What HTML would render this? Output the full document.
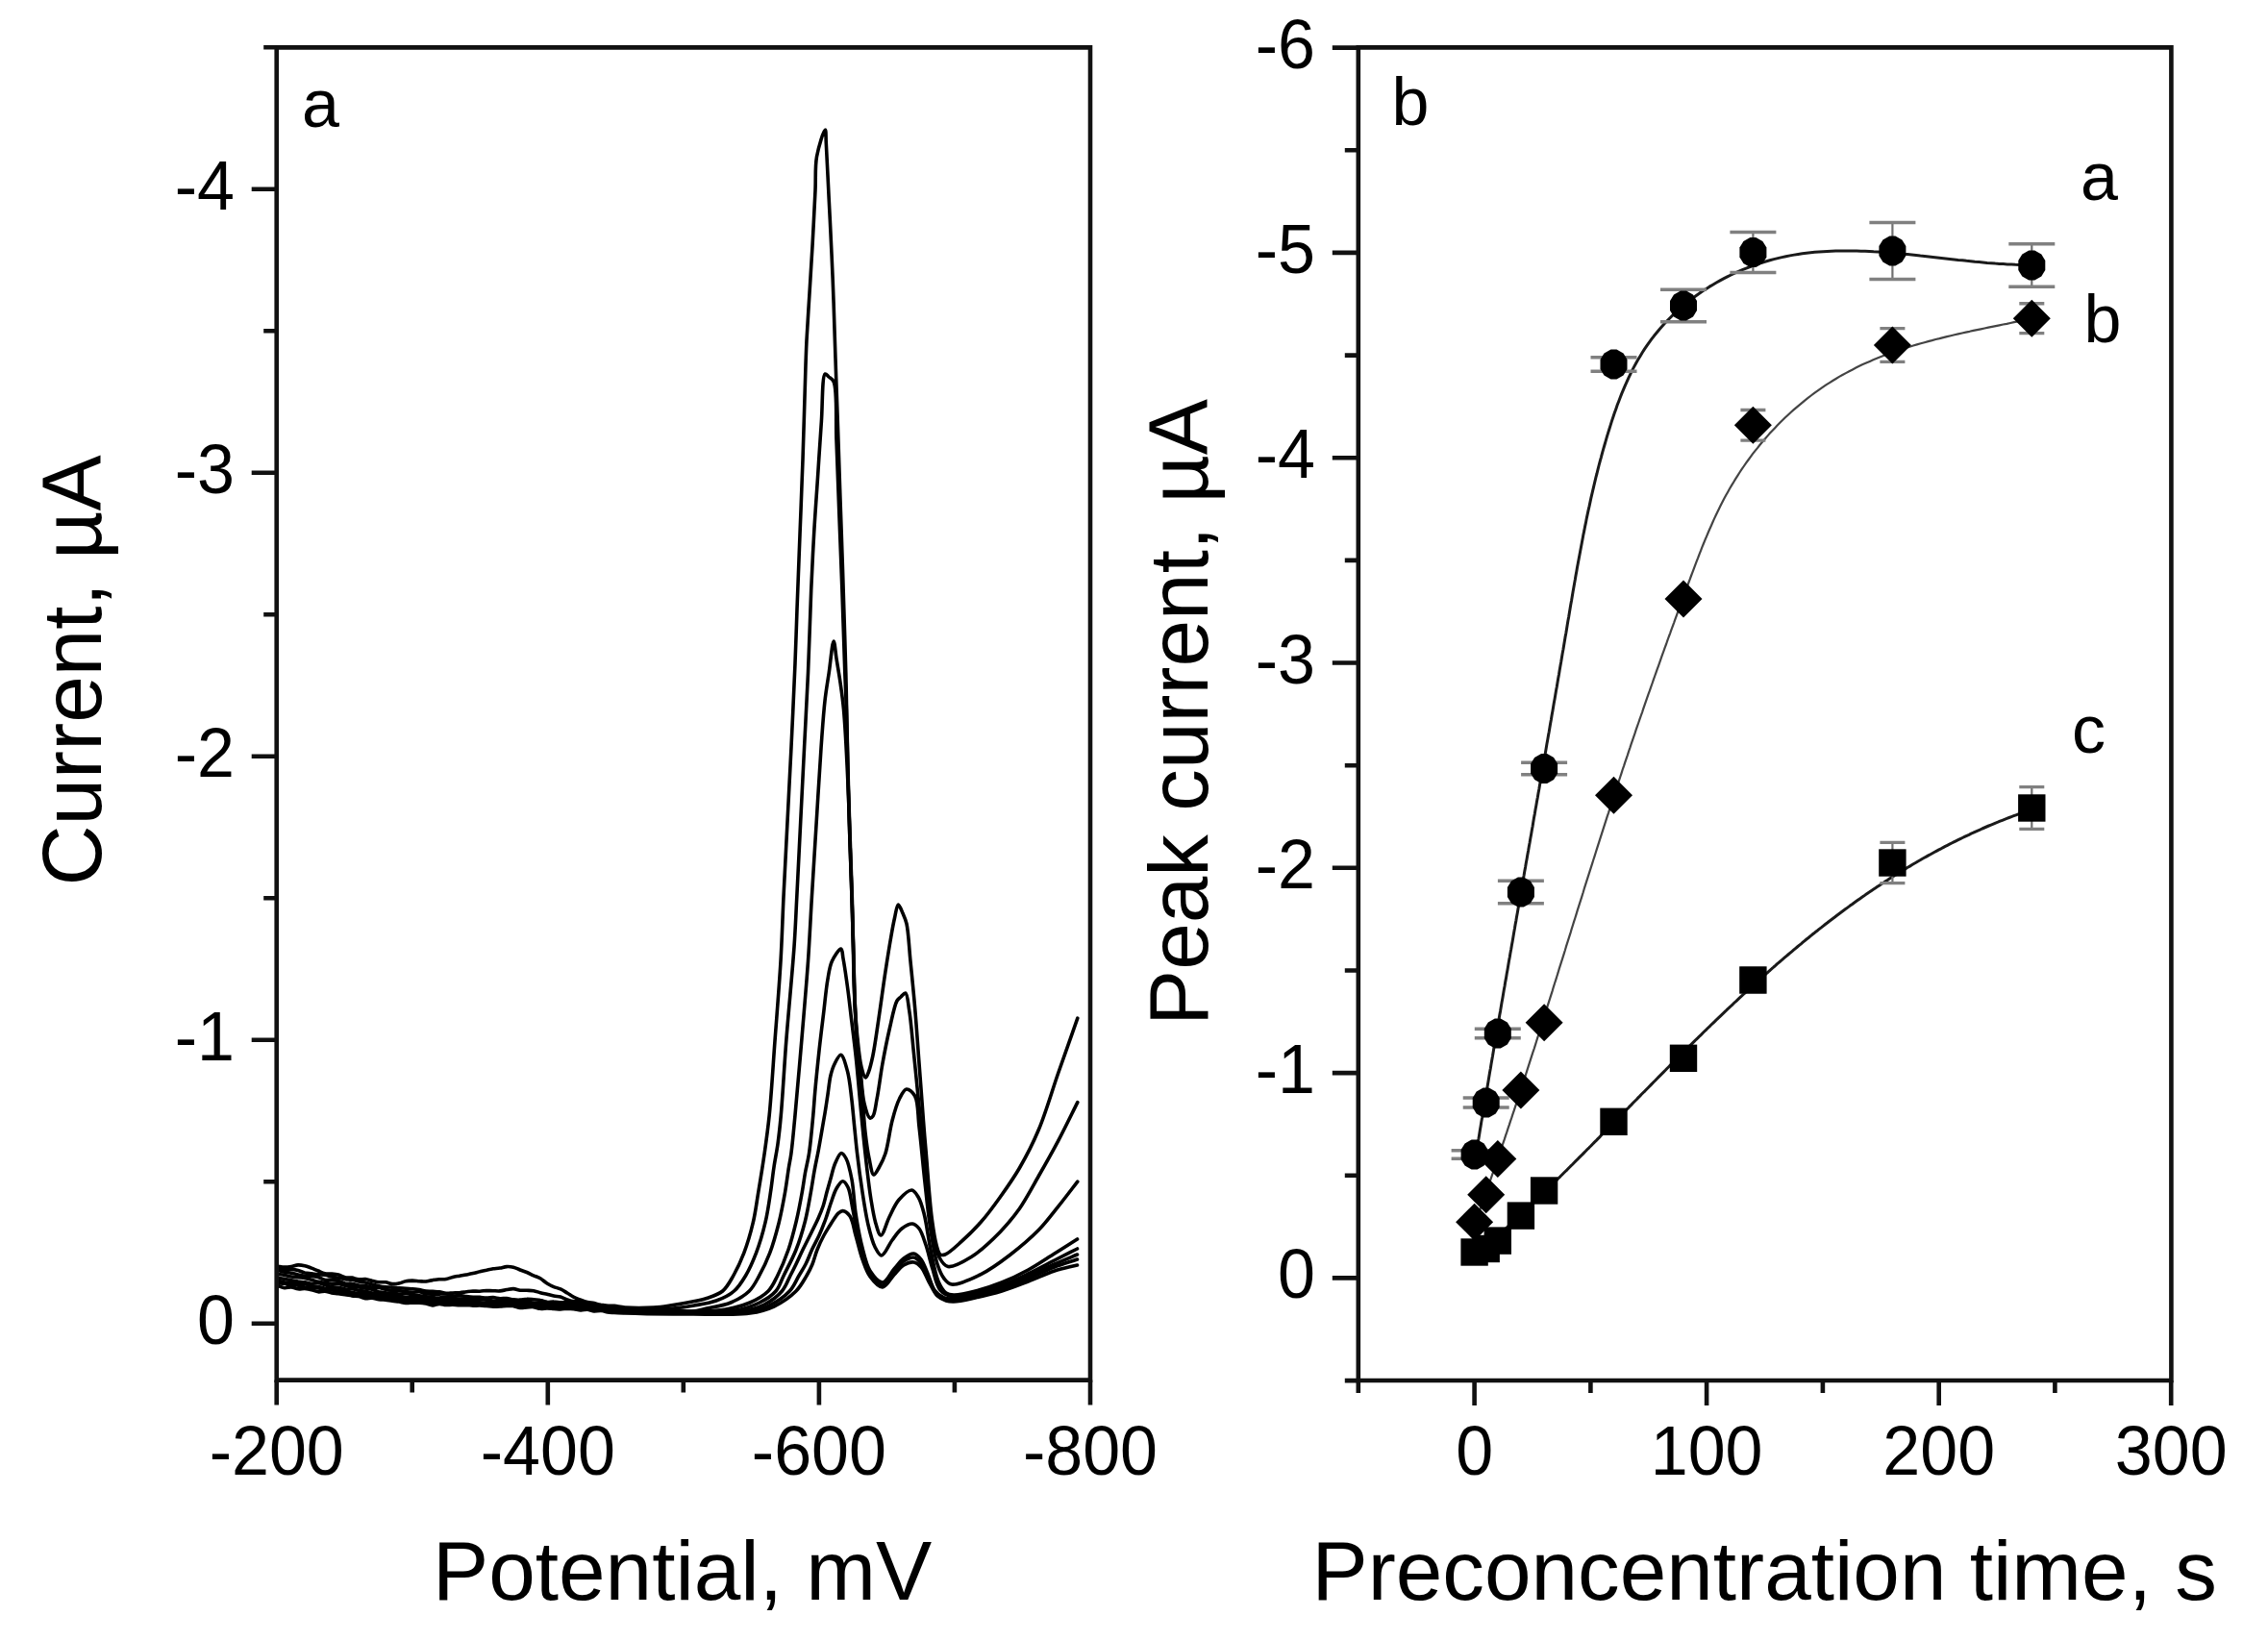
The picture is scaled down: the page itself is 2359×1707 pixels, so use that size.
<!DOCTYPE html>
<html><head><meta charset="utf-8"><title>Figure</title><style>html,body{margin:0;padding:0;background:#fff;}svg{display:block;}</style></head><body>
<svg width="2359" height="1707" viewBox="0 0 2359 1707" font-family="Liberation Sans, Arial, sans-serif">
<rect width="2359" height="1707" fill="#fff"/>
<g fill="none" stroke="#000" stroke-width="3.6" stroke-linejoin="round" stroke-linecap="round">
<path d="M289.0 1317.3 C291.3 1317.6 293.7 1318.1 296.0 1318.1 C298.3 1318.1 300.7 1317.8 303.0 1317.4 C305.3 1317.0 307.7 1316.1 310.0 1315.9 C312.3 1315.8 314.7 1316.2 317.0 1316.7 C319.4 1317.2 321.7 1318.3 324.0 1319.1 C326.3 1320.0 328.7 1321.1 331.0 1322.0 C333.3 1323.0 335.6 1324.3 338.0 1324.8 C340.3 1325.3 342.7 1324.9 345.0 1325.1 C347.3 1325.3 349.7 1325.5 352.0 1326.1 C354.4 1326.7 356.6 1328.2 359.0 1328.7 C361.3 1329.2 363.7 1328.7 366.0 1329.1 C368.3 1329.5 370.6 1330.6 373.0 1330.8 C375.3 1331.1 377.7 1330.3 380.0 1330.5 C382.4 1330.8 384.7 1331.7 387.0 1332.3 C389.3 1332.8 391.7 1333.5 394.0 1333.7 C396.3 1334.0 398.7 1333.5 401.0 1333.8 C403.4 1334.1 405.7 1335.4 408.0 1335.6 C410.3 1335.8 412.7 1335.4 415.0 1334.9 C417.4 1334.5 419.6 1333.2 422.0 1332.8 C424.3 1332.3 426.7 1332.2 429.0 1332.1 C431.3 1332.1 433.7 1332.5 436.0 1332.7 C438.3 1332.8 440.7 1333.1 443.0 1333.0 C445.3 1332.8 447.7 1331.9 450.0 1331.6 C452.3 1331.2 454.7 1331.0 457.0 1330.8 C459.3 1330.7 461.7 1331.0 464.0 1330.6 C466.4 1330.2 468.6 1329.0 471.0 1328.4 C473.3 1327.8 475.7 1327.6 478.0 1327.2 C480.3 1326.8 482.7 1326.5 485.0 1326.0 C487.3 1325.6 489.7 1325.2 492.0 1324.6 C494.3 1324.1 496.7 1323.2 499.0 1322.7 C501.3 1322.1 503.7 1321.6 506.0 1321.2 C508.3 1320.7 510.7 1320.2 513.0 1319.8 C515.3 1319.5 517.7 1319.5 520.0 1319.1 C522.3 1318.7 524.7 1317.8 527.0 1317.6 C529.3 1317.5 531.7 1317.7 534.0 1318.2 C536.4 1318.8 538.7 1320.1 541.0 1321.0 C543.3 1321.9 545.7 1322.6 548.0 1323.5 C550.4 1324.5 552.7 1325.8 555.0 1326.8 C557.3 1327.8 559.7 1328.5 562.0 1329.8 C564.4 1331.2 566.6 1333.5 569.0 1335.0 C571.3 1336.4 573.6 1337.6 576.0 1338.6 C578.3 1339.5 580.7 1339.9 583.0 1340.9 C585.4 1342.0 587.7 1343.6 590.0 1345.0 C592.3 1346.4 594.6 1348.1 597.0 1349.3 C599.3 1350.5 601.7 1351.3 604.0 1352.2 C606.3 1353.1 608.6 1354.0 611.0 1354.5 C613.3 1355.1 615.7 1355.0 618.0 1355.5 C620.4 1356.0 622.6 1357.3 625.0 1357.8 C627.3 1358.3 629.7 1358.2 632.0 1358.3 C634.3 1358.4 636.4 1358.2 639.0 1358.4 C642.3 1358.7 645.4 1359.7 650.0 1360.0 C657.5 1360.5 671.4 1360.5 680.0 1360.0 C686.5 1359.6 690.9 1358.9 697.0 1358.0 C704.1 1357.0 713.2 1355.4 720.0 1354.0 C725.6 1352.9 730.0 1352.2 735.0 1350.5 C740.5 1348.6 747.0 1346.8 751.6 1343.0 C756.3 1339.1 759.2 1333.2 762.7 1327.2 C766.7 1320.2 770.5 1312.0 773.8 1303.4 C777.5 1293.7 780.8 1282.3 783.3 1271.7 C785.8 1261.2 786.9 1251.2 788.8 1240.0 C790.9 1227.4 793.2 1213.3 795.1 1200.0 C797.0 1186.7 798.6 1175.6 800.2 1160.0 C802.4 1137.9 804.2 1106.7 806.2 1080.0 C808.2 1053.3 810.5 1025.5 812.0 1000.0 C813.4 976.7 813.9 956.2 815.0 933.0 C816.2 908.0 817.7 881.0 819.0 855.0 C820.3 829.0 821.7 803.7 823.0 777.0 C824.4 748.8 825.9 715.8 827.0 690.0 C827.8 669.3 828.3 654.2 829.0 634.0 C829.9 610.1 831.0 582.0 832.0 556.0 C833.0 530.0 834.1 505.5 835.0 478.0 C836.1 447.2 837.2 402.2 838.0 380.0 C838.4 368.6 838.5 364.0 839.0 354.0 C839.7 340.2 841.0 321.3 842.0 305.0 C843.0 288.7 844.0 273.0 845.0 256.0 C846.0 237.5 847.2 214.9 848.0 198.0 C848.6 184.9 847.6 173.9 849.5 163.0 C851.3 153.0 856.8 134.8 858.3 135.0 C859.3 135.1 858.9 142.7 859.3 149.0 C860.1 161.7 861.2 187.6 862.2 207.0 C863.2 226.6 864.3 247.2 865.1 266.0 C865.9 283.1 866.5 298.0 867.1 315.0 C867.8 333.5 868.3 353.8 869.0 373.0 C869.6 392.1 870.3 409.0 871.0 430.0 C871.9 455.9 873.0 490.9 873.9 517.0 C874.6 538.3 875.3 555.6 875.9 575.0 C876.6 594.6 877.2 613.8 877.8 634.0 C878.5 655.4 879.3 681.0 879.8 700.0 C880.2 714.4 880.3 723.1 880.6 738.0 C881.1 759.4 881.7 791.8 882.4 816.0 C883.0 837.0 883.6 855.4 884.3 875.0 C884.9 894.4 885.8 914.7 886.3 933.0 C886.8 949.5 887.1 963.4 887.5 980.0 C888.0 998.8 888.2 1022.4 889.0 1040.0 C889.7 1053.8 890.4 1065.0 891.6 1077.0 C892.8 1088.3 893.9 1102.0 896.0 1110.0 C897.2 1114.7 899.0 1120.9 900.4 1121.0 C901.5 1121.1 902.5 1117.5 903.5 1115.0 C905.0 1111.0 906.3 1105.5 907.7 1099.0 C909.8 1089.3 911.6 1075.3 913.6 1062.0 C916.0 1046.4 918.5 1026.5 920.9 1011.0 C922.9 997.9 924.9 985.2 926.7 975.0 C928.0 967.3 929.1 961.0 930.5 955.0 C931.7 949.9 932.7 941.2 934.3 941.0 C935.6 940.9 937.6 946.8 939.0 950.0 C940.5 953.4 941.9 956.1 943.0 961.0 C945.0 969.9 945.6 986.3 947.0 1000.0 C948.5 1015.2 950.2 1031.2 951.6 1048.0 C953.2 1066.4 954.5 1086.6 956.0 1106.0 C957.5 1125.6 959.1 1147.9 960.4 1165.0 C961.4 1178.2 962.1 1186.5 963.3 1200.0 C964.9 1218.7 966.9 1249.5 969.2 1267.0 C970.7 1278.4 972.1 1288.1 974.0 1295.0 C975.2 1299.3 976.0 1303.6 978.0 1305.0 C979.4 1305.9 981.0 1305.7 983.0 1305.0 C987.2 1303.5 994.3 1296.6 1000.1 1291.4 C1006.7 1285.5 1013.7 1278.7 1020.2 1271.3 C1027.2 1263.4 1033.8 1254.3 1040.3 1245.2 C1047.2 1235.6 1054.0 1226.0 1060.4 1215.0 C1067.5 1202.8 1074.3 1189.7 1080.5 1174.8 C1087.8 1157.4 1093.9 1135.8 1100.6 1116.5 C1107.3 1097.3 1114.1 1078.3 1120.8 1059.2"/>
<path d="M289.0 1319.8 C291.3 1320.2 293.7 1320.8 296.0 1320.9 C298.3 1321.0 300.7 1320.3 303.0 1320.4 C305.3 1320.5 307.7 1321.0 310.0 1321.5 C312.4 1322.1 314.6 1323.4 317.0 1324.0 C319.3 1324.5 321.7 1324.6 324.0 1324.9 C326.3 1325.2 328.7 1325.7 331.0 1325.9 C333.3 1326.1 335.7 1326.0 338.0 1326.3 C340.4 1326.7 342.7 1327.6 345.0 1328.1 C347.3 1328.6 349.7 1329.0 352.0 1329.4 C354.3 1329.8 356.7 1330.3 359.0 1330.6 C361.3 1330.9 363.7 1330.8 366.0 1331.2 C368.4 1331.5 370.7 1332.4 373.0 1332.9 C375.3 1333.4 377.7 1333.6 380.0 1334.1 C382.3 1334.7 384.7 1335.4 387.0 1336.0 C389.3 1336.6 391.7 1337.3 394.0 1337.8 C396.3 1338.3 398.7 1338.7 401.0 1338.9 C403.3 1339.1 405.7 1338.9 408.0 1339.1 C410.3 1339.2 412.7 1339.6 415.0 1339.8 C417.3 1340.0 419.7 1340.2 422.0 1340.3 C424.3 1340.5 426.7 1340.6 429.0 1340.8 C431.3 1341.0 433.7 1341.3 436.0 1341.6 C438.3 1342.0 440.7 1342.9 443.0 1343.1 C445.3 1343.4 447.7 1343.2 450.0 1343.3 C452.3 1343.5 454.7 1343.6 457.0 1343.9 C459.3 1344.2 461.7 1345.1 464.0 1345.3 C466.3 1345.5 468.7 1345.1 471.0 1345.0 C473.3 1344.9 475.7 1344.9 478.0 1344.7 C480.3 1344.5 482.7 1344.1 485.0 1343.8 C487.3 1343.5 489.7 1343.1 492.0 1343.0 C494.3 1343.0 496.7 1343.3 499.0 1343.2 C501.3 1343.2 503.7 1342.6 506.0 1342.5 C508.3 1342.5 510.7 1342.7 513.0 1342.7 C515.3 1342.8 517.7 1343.1 520.0 1342.9 C522.3 1342.7 524.7 1342.0 527.0 1341.6 C529.3 1341.2 531.7 1340.5 534.0 1340.6 C536.3 1340.7 538.7 1341.9 541.0 1342.2 C543.3 1342.4 545.7 1342.2 548.0 1342.3 C550.3 1342.4 552.7 1342.3 555.0 1342.7 C557.4 1343.1 559.7 1344.1 562.0 1344.7 C564.3 1345.3 566.7 1345.7 569.0 1346.2 C571.3 1346.8 573.7 1347.6 576.0 1348.0 C578.3 1348.5 580.7 1348.4 583.0 1349.0 C585.4 1349.7 587.6 1351.2 590.0 1352.0 C592.3 1352.8 594.6 1353.5 597.0 1353.8 C599.3 1354.1 601.7 1353.5 604.0 1353.8 C606.4 1354.2 608.6 1355.4 611.0 1355.9 C613.3 1356.4 615.7 1356.6 618.0 1356.8 C620.3 1357.1 622.7 1357.1 625.0 1357.4 C627.3 1357.6 629.7 1358.1 632.0 1358.5 C634.3 1358.8 636.4 1359.1 639.0 1359.4 C642.3 1359.9 645.0 1360.6 650.0 1361.0 C660.6 1361.8 686.7 1361.9 700.0 1361.0 C708.8 1360.4 714.6 1359.3 722.0 1358.0 C729.6 1356.7 737.9 1355.6 745.0 1353.0 C751.7 1350.5 758.4 1347.4 763.5 1343.0 C768.5 1338.7 771.8 1333.2 775.4 1327.2 C779.6 1320.3 783.2 1312.0 786.5 1303.4 C790.2 1293.7 793.5 1282.3 796.0 1271.7 C798.5 1261.2 800.0 1250.1 801.5 1240.0 C802.9 1230.9 803.7 1222.5 805.0 1214.0 C806.2 1205.8 807.8 1198.5 809.0 1190.0 C810.3 1180.6 811.2 1172.4 812.3 1160.0 C814.1 1139.8 815.8 1107.8 818.0 1080.0 C820.4 1049.7 824.1 1011.9 826.0 985.0 C827.4 965.1 827.8 952.1 828.8 933.0 C830.0 909.6 831.4 881.0 832.7 855.0 C834.0 829.0 835.3 802.9 836.6 777.0 C837.9 751.3 839.3 726.4 840.5 700.0 C841.7 672.1 842.6 639.8 843.7 614.0 C844.6 592.8 845.5 575.4 846.6 556.0 C847.7 536.4 849.2 516.7 850.5 497.0 C851.8 477.3 853.0 456.7 854.4 438.0 C855.6 420.9 855.0 390.4 858.3 389.0 C859.3 388.6 860.7 390.8 862.0 392.0 C863.6 393.4 865.7 394.0 867.1 397.0 C871.1 405.8 869.1 436.4 870.0 458.0 C871.0 482.4 871.9 510.0 872.9 536.0 C873.9 562.0 874.9 587.4 875.9 614.0 C876.9 642.0 877.9 677.1 878.8 700.0 C879.4 715.2 879.9 723.1 880.4 738.0 C881.1 759.4 881.6 791.8 882.2 816.0 C882.8 837.0 883.4 855.4 884.0 875.0 C884.6 894.4 885.4 914.7 886.0 933.0 C886.5 949.5 886.9 963.9 887.3 980.0 C887.7 997.1 887.9 1016.2 888.6 1033.0 C889.2 1048.4 889.9 1063.0 891.0 1077.0 C892.0 1089.9 893.6 1101.9 895.0 1114.0 C896.3 1125.6 896.8 1139.1 899.0 1148.0 C900.5 1154.1 902.7 1162.3 904.8 1163.0 C905.8 1163.3 907.1 1162.3 908.0 1161.0 C910.1 1158.1 910.7 1150.1 912.1 1143.0 C914.1 1132.9 915.8 1118.2 918.0 1106.0 C920.2 1093.9 922.7 1081.3 925.3 1070.0 C927.7 1059.8 930.1 1046.1 933.0 1041.0 C934.3 1038.8 935.6 1038.3 937.0 1037.0 C938.5 1035.6 940.5 1032.6 941.8 1033.0 C944.0 1033.8 944.5 1043.7 945.7 1051.0 C947.5 1061.9 948.7 1078.1 950.1 1092.0 C951.6 1106.4 953.0 1121.4 954.5 1136.0 C956.0 1150.4 957.4 1164.1 958.9 1179.0 C960.5 1195.3 962.1 1213.1 964.0 1230.0 C965.8 1246.8 967.4 1265.8 970.0 1280.0 C972.0 1290.7 973.4 1301.4 977.0 1308.0 C979.4 1312.4 981.9 1316.6 986.0 1317.5 C991.8 1318.7 1002.1 1312.5 1010.2 1307.5 C1020.2 1301.3 1031.6 1290.3 1040.3 1281.4 C1048.0 1273.5 1054.0 1266.2 1060.4 1257.2 C1067.5 1247.0 1073.9 1234.6 1080.5 1223.0 C1087.3 1211.1 1094.0 1199.3 1100.6 1186.8 C1107.5 1173.8 1114.1 1160.0 1120.8 1146.6"/>
<path d="M289.0 1321.5 C291.3 1322.1 293.7 1322.9 296.0 1323.3 C298.3 1323.8 300.7 1323.8 303.0 1324.2 C305.3 1324.7 307.7 1325.4 310.0 1325.9 C312.3 1326.4 314.7 1326.9 317.0 1327.2 C319.3 1327.4 321.7 1327.2 324.0 1327.4 C326.3 1327.6 328.7 1327.9 331.0 1328.5 C333.4 1329.2 335.6 1330.8 338.0 1331.3 C340.3 1331.7 342.7 1331.2 345.0 1331.4 C347.3 1331.6 349.7 1331.9 352.0 1332.5 C354.4 1333.1 356.6 1334.6 359.0 1335.1 C361.3 1335.5 363.7 1334.9 366.0 1335.3 C368.4 1335.6 370.6 1336.7 373.0 1337.1 C375.3 1337.5 377.7 1337.3 380.0 1337.6 C382.3 1338.0 384.7 1338.8 387.0 1339.1 C389.3 1339.4 391.7 1339.0 394.0 1339.4 C396.4 1339.7 398.7 1340.8 401.0 1341.3 C403.3 1341.9 405.7 1342.3 408.0 1342.5 C410.3 1342.7 412.7 1342.3 415.0 1342.5 C417.3 1342.7 419.7 1343.4 422.0 1343.6 C424.3 1343.9 426.7 1344.2 429.0 1344.2 C431.3 1344.2 433.7 1343.6 436.0 1343.8 C438.4 1344.1 440.6 1345.4 443.0 1345.8 C445.3 1346.1 447.7 1346.1 450.0 1346.2 C452.3 1346.2 454.7 1346.1 457.0 1346.1 C459.3 1346.0 461.7 1345.7 464.0 1346.0 C466.4 1346.3 468.6 1347.6 471.0 1347.9 C473.3 1348.2 475.7 1347.5 478.0 1347.6 C480.3 1347.7 482.7 1348.2 485.0 1348.5 C487.3 1348.8 489.7 1349.1 492.0 1349.2 C494.3 1349.3 496.7 1349.2 499.0 1349.3 C501.3 1349.5 503.7 1350.1 506.0 1350.1 C508.3 1350.2 510.7 1349.5 513.0 1349.6 C515.3 1349.7 517.7 1350.6 520.0 1350.7 C522.3 1350.9 524.7 1350.3 527.0 1350.5 C529.3 1350.7 531.7 1351.6 534.0 1351.8 C536.3 1352.1 538.7 1352.3 541.0 1352.1 C543.3 1352.0 545.7 1351.2 548.0 1351.2 C550.3 1351.1 552.7 1351.5 555.0 1351.7 C557.3 1352.0 559.7 1352.0 562.0 1352.5 C564.4 1352.9 566.6 1354.1 569.0 1354.4 C571.3 1354.6 573.7 1353.9 576.0 1354.0 C578.3 1354.0 580.7 1354.7 583.0 1354.9 C585.3 1355.0 587.7 1354.7 590.0 1354.8 C592.3 1355.0 594.7 1355.5 597.0 1355.8 C599.3 1356.0 601.7 1356.1 604.0 1356.3 C606.3 1356.5 608.7 1356.7 611.0 1357.1 C613.3 1357.4 615.7 1358.0 618.0 1358.3 C620.3 1358.7 622.7 1358.8 625.0 1359.2 C627.3 1359.5 629.7 1360.3 632.0 1360.6 C634.3 1360.9 636.4 1360.8 639.0 1361.0 C642.3 1361.3 645.0 1361.7 650.0 1362.0 C660.6 1362.6 687.1 1362.5 700.0 1363.0 C708.2 1363.3 713.8 1364.5 720.0 1364.0 C725.4 1363.6 729.4 1362.2 735.0 1361.0 C742.3 1359.4 752.4 1358.2 760.0 1355.0 C767.1 1352.0 774.3 1347.9 779.3 1343.0 C783.9 1338.5 786.3 1333.1 789.6 1327.2 C793.5 1320.2 797.4 1312.0 800.7 1303.4 C804.4 1293.7 807.5 1282.3 810.2 1271.7 C812.8 1261.2 814.8 1250.1 816.6 1240.0 C818.2 1230.9 819.3 1221.3 820.5 1214.0 C821.4 1208.6 822.1 1205.9 822.9 1200.0 C824.3 1190.1 825.5 1175.6 827.0 1160.0 C829.1 1137.9 831.7 1106.7 834.0 1080.0 C836.2 1053.3 838.7 1025.5 840.5 1000.0 C842.1 976.7 843.0 956.2 844.4 933.0 C845.9 908.0 847.6 881.0 849.2 855.0 C850.8 829.0 852.5 799.9 854.1 777.0 C855.4 759.1 856.4 743.0 858.0 729.0 C859.2 718.1 860.7 710.0 862.2 700.0 C863.8 689.4 865.7 667.0 867.1 667.0 C868.2 667.0 869.0 678.5 870.0 685.0 C871.2 692.7 872.8 701.4 874.0 710.0 C875.3 719.1 876.4 726.3 877.5 738.0 C879.3 757.5 880.9 791.8 882.0 816.0 C883.0 837.0 883.3 855.4 884.0 875.0 C884.7 894.4 885.4 913.0 886.0 933.0 C886.7 954.5 887.3 978.3 888.0 1000.0 C888.6 1020.6 889.0 1042.0 890.0 1060.0 C890.8 1074.7 891.8 1086.7 893.0 1100.0 C894.2 1113.3 895.8 1126.8 897.0 1140.0 C898.1 1152.8 898.7 1166.4 900.0 1178.0 C901.1 1187.8 902.3 1197.1 904.0 1205.0 C905.4 1211.4 906.7 1221.6 908.8 1222.0 C910.3 1222.3 912.3 1217.9 914.0 1215.0 C916.3 1211.0 918.9 1206.2 920.9 1200.0 C923.9 1190.9 925.4 1175.2 928.2 1165.0 C930.4 1156.7 932.5 1148.7 935.5 1143.0 C937.7 1138.8 940.0 1133.4 942.8 1133.0 C945.4 1132.6 949.4 1136.2 951.6 1140.0 C955.3 1146.4 954.5 1159.7 956.0 1172.0 C958.0 1188.5 959.9 1211.4 962.0 1230.0 C963.9 1247.3 965.6 1264.9 968.0 1280.0 C970.0 1292.7 972.0 1305.9 975.0 1315.0 C977.0 1321.2 979.1 1326.4 982.0 1330.0 C984.3 1332.8 986.2 1335.4 989.9 1336.0 C996.6 1337.1 1010.4 1330.4 1020.2 1325.6 C1030.6 1320.5 1040.6 1313.0 1050.4 1305.5 C1060.7 1297.6 1071.8 1288.2 1080.5 1279.3 C1088.2 1271.4 1094.0 1263.5 1100.6 1255.2 C1107.4 1246.7 1114.1 1237.8 1120.8 1229.1"/>
<path d="M289.0 1325.5 C291.3 1325.8 293.7 1326.0 296.0 1326.4 C298.3 1326.8 300.7 1327.6 303.0 1328.0 C305.3 1328.4 307.7 1328.4 310.0 1328.7 C312.3 1328.9 314.7 1329.2 317.0 1329.6 C319.3 1330.1 321.7 1330.7 324.0 1331.3 C326.3 1331.9 328.6 1332.9 331.0 1333.3 C333.3 1333.8 335.7 1333.9 338.0 1334.2 C340.3 1334.6 342.7 1335.1 345.0 1335.3 C347.3 1335.5 349.7 1335.2 352.0 1335.5 C354.4 1335.8 356.7 1336.8 359.0 1337.2 C361.3 1337.6 363.7 1337.7 366.0 1337.9 C368.3 1338.2 370.7 1338.6 373.0 1338.9 C375.3 1339.2 377.7 1339.6 380.0 1340.0 C382.3 1340.4 384.7 1340.7 387.0 1341.3 C389.4 1342.0 391.6 1343.2 394.0 1343.8 C396.3 1344.3 398.7 1344.4 401.0 1344.7 C403.3 1345.0 405.7 1345.1 408.0 1345.4 C410.3 1345.6 412.7 1346.0 415.0 1346.0 C417.3 1346.1 419.7 1345.6 422.0 1345.6 C424.3 1345.7 426.7 1346.2 429.0 1346.6 C431.3 1346.9 433.7 1347.5 436.0 1347.8 C438.3 1348.2 440.7 1348.4 443.0 1348.7 C445.3 1349.0 447.7 1349.4 450.0 1349.6 C452.3 1349.9 454.7 1350.2 457.0 1350.1 C459.3 1350.0 461.7 1349.0 464.0 1349.1 C466.3 1349.2 468.7 1350.1 471.0 1350.5 C473.3 1350.8 475.7 1350.9 478.0 1351.0 C480.3 1351.1 482.7 1351.1 485.0 1351.1 C487.3 1351.1 489.7 1350.8 492.0 1350.9 C494.3 1351.1 496.7 1351.8 499.0 1351.9 C501.3 1352.0 503.7 1351.3 506.0 1351.5 C508.4 1351.7 510.6 1353.0 513.0 1353.3 C515.3 1353.6 517.7 1353.5 520.0 1353.5 C522.3 1353.4 524.7 1353.2 527.0 1353.2 C529.3 1353.1 531.7 1352.8 534.0 1353.0 C536.3 1353.2 538.7 1354.2 541.0 1354.4 C543.3 1354.5 545.7 1353.9 548.0 1354.1 C550.3 1354.2 552.7 1354.8 555.0 1355.1 C557.3 1355.3 559.7 1355.5 562.0 1355.6 C564.3 1355.7 566.7 1355.5 569.0 1355.5 C571.3 1355.6 573.7 1355.7 576.0 1355.9 C578.3 1356.1 580.7 1356.6 583.0 1356.8 C585.3 1357.0 587.7 1357.0 590.0 1357.1 C592.3 1357.1 594.7 1357.0 597.0 1357.2 C599.3 1357.3 601.7 1357.6 604.0 1358.0 C606.3 1358.5 608.7 1359.5 611.0 1359.7 C613.3 1359.8 615.7 1359.0 618.0 1359.0 C620.3 1359.0 622.7 1359.3 625.0 1359.7 C627.3 1360.1 629.6 1361.1 632.0 1361.4 C634.3 1361.7 636.4 1361.3 639.0 1361.5 C642.3 1361.7 645.0 1362.6 650.0 1363.0 C660.6 1363.8 687.1 1363.9 700.0 1364.0 C708.2 1364.1 712.4 1364.2 720.0 1364.0 C730.0 1363.7 744.4 1363.8 755.0 1362.0 C764.1 1360.5 772.4 1358.3 780.0 1355.0 C787.0 1351.9 794.2 1348.0 799.1 1343.0 C803.5 1338.5 805.5 1333.3 808.6 1327.2 C812.5 1319.5 816.7 1309.4 820.0 1300.0 C823.3 1290.3 825.9 1280.0 828.3 1270.0 C830.7 1260.0 832.7 1249.0 834.3 1240.0 C835.6 1232.7 836.3 1226.7 837.5 1220.0 C838.7 1213.3 840.3 1207.8 841.5 1200.0 C843.2 1189.0 844.7 1171.6 845.8 1160.0 C846.6 1151.0 846.9 1145.2 847.7 1136.0 C848.8 1123.5 850.6 1106.0 852.1 1092.0 C853.5 1079.1 855.0 1067.2 856.5 1055.0 C858.0 1042.9 859.1 1029.1 860.9 1019.0 C862.2 1011.6 862.8 1005.5 865.3 1000.0 C867.6 995.0 872.9 986.6 874.8 987.0 C876.3 987.3 876.2 992.8 877.0 997.0 C878.3 1004.1 880.0 1015.8 881.4 1026.0 C883.0 1037.3 884.3 1049.9 885.8 1062.0 C887.3 1074.2 888.8 1085.7 890.2 1099.0 C891.9 1114.6 893.4 1133.1 895.0 1150.0 C896.6 1166.8 898.1 1183.5 900.0 1200.0 C901.8 1216.2 903.8 1234.6 906.0 1248.0 C907.6 1257.7 908.9 1266.3 911.0 1273.0 C912.5 1277.8 914.2 1285.0 916.2 1285.0 C918.7 1285.0 921.9 1272.2 925.0 1266.0 C928.1 1259.9 930.8 1252.8 935.0 1248.0 C938.8 1243.7 944.8 1237.7 948.4 1238.0 C951.1 1238.2 953.1 1241.9 955.0 1245.0 C957.6 1249.2 959.2 1255.1 961.0 1262.0 C963.7 1272.1 965.4 1287.8 968.0 1300.0 C970.4 1311.4 972.5 1324.9 976.0 1333.0 C978.3 1338.3 980.8 1342.8 984.0 1345.0 C986.4 1346.7 988.6 1346.9 992.0 1347.0 C997.6 1347.2 1006.7 1345.0 1014.5 1343.0 C1023.3 1340.8 1033.0 1337.6 1042.0 1334.0 C1051.3 1330.3 1060.4 1325.9 1069.4 1321.0 C1078.7 1315.9 1088.0 1309.5 1096.8 1304.0 C1105.0 1298.9 1112.6 1294.0 1120.5 1289.0"/>
<path d="M289.0 1329.2 C291.3 1329.7 293.7 1330.1 296.0 1330.5 C298.3 1331.0 300.7 1331.3 303.0 1331.7 C305.3 1332.2 307.7 1332.7 310.0 1333.1 C312.3 1333.4 314.7 1333.5 317.0 1333.8 C319.3 1334.2 321.7 1335.1 324.0 1335.3 C326.3 1335.4 328.7 1334.5 331.0 1334.7 C333.4 1335.0 335.7 1336.0 338.0 1336.6 C340.3 1337.3 342.6 1338.2 345.0 1338.6 C347.3 1339.1 349.7 1338.9 352.0 1339.3 C354.3 1339.6 356.7 1340.7 359.0 1340.9 C361.3 1341.1 363.7 1340.4 366.0 1340.6 C368.4 1340.9 370.7 1342.0 373.0 1342.4 C375.3 1342.9 377.7 1342.8 380.0 1343.2 C382.3 1343.6 384.7 1344.4 387.0 1344.9 C389.3 1345.4 391.7 1345.9 394.0 1346.1 C396.3 1346.3 398.7 1346.0 401.0 1346.2 C403.3 1346.4 405.7 1346.9 408.0 1347.1 C410.3 1347.4 412.7 1347.4 415.0 1347.8 C417.3 1348.2 419.7 1349.2 422.0 1349.5 C424.3 1349.8 426.7 1349.8 429.0 1349.8 C431.3 1349.8 433.7 1349.1 436.0 1349.3 C438.3 1349.5 440.7 1350.8 443.0 1351.0 C445.3 1351.1 447.7 1350.2 450.0 1350.3 C452.3 1350.5 454.7 1351.5 457.0 1351.6 C459.3 1351.8 461.7 1351.2 464.0 1351.2 C466.3 1351.1 468.7 1351.0 471.0 1351.4 C473.4 1351.7 475.6 1353.2 478.0 1353.3 C480.3 1353.5 482.7 1352.6 485.0 1352.6 C487.3 1352.5 489.7 1352.6 492.0 1353.0 C494.4 1353.4 496.6 1354.5 499.0 1354.8 C501.3 1355.1 503.7 1355.0 506.0 1354.9 C508.3 1354.8 510.7 1354.0 513.0 1354.1 C515.3 1354.3 517.7 1355.5 520.0 1355.6 C522.3 1355.8 524.7 1355.1 527.0 1355.2 C529.3 1355.2 531.7 1355.7 534.0 1355.7 C536.3 1355.7 538.7 1354.9 541.0 1355.1 C543.3 1355.3 545.7 1356.5 548.0 1356.7 C550.3 1357.0 552.7 1356.5 555.0 1356.6 C557.3 1356.8 559.7 1357.4 562.0 1357.6 C564.3 1357.8 566.7 1357.9 569.0 1357.8 C571.3 1357.8 573.7 1357.2 576.0 1357.2 C578.3 1357.2 580.7 1357.6 583.0 1357.7 C585.3 1357.8 587.7 1357.7 590.0 1357.8 C592.3 1357.9 594.7 1358.0 597.0 1358.2 C599.3 1358.3 601.7 1358.4 604.0 1358.6 C606.3 1358.9 608.7 1359.3 611.0 1359.7 C613.3 1360.1 615.7 1360.8 618.0 1361.0 C620.3 1361.1 622.7 1360.4 625.0 1360.6 C627.4 1360.9 629.6 1362.2 632.0 1362.5 C634.3 1362.8 636.4 1362.4 639.0 1362.6 C642.3 1362.8 645.0 1363.6 650.0 1364.0 C660.6 1364.8 687.1 1364.9 700.0 1365.0 C708.2 1365.1 712.0 1365.2 720.0 1365.0 C732.0 1364.7 752.3 1365.3 765.0 1363.0 C774.7 1361.3 782.7 1358.6 790.0 1355.0 C796.5 1351.8 802.8 1347.9 807.0 1343.0 C810.9 1338.5 812.0 1333.2 815.0 1327.2 C818.8 1319.4 824.3 1309.4 828.0 1300.0 C831.8 1290.4 834.9 1280.1 837.5 1270.0 C840.0 1260.1 841.7 1249.4 843.4 1240.0 C844.9 1231.7 845.9 1224.0 847.3 1216.6 C848.5 1209.8 850.0 1203.5 851.2 1197.0 C852.4 1190.5 853.5 1184.1 854.6 1177.6 C855.7 1171.1 856.9 1164.5 858.0 1158.0 C859.1 1151.5 860.0 1145.0 861.0 1138.5 C862.0 1132.0 862.6 1124.6 863.9 1119.0 C865.0 1114.6 866.0 1110.9 867.8 1107.3 C869.6 1103.7 872.5 1097.1 874.6 1097.3 C877.1 1097.6 879.6 1107.5 881.4 1114.0 C883.7 1122.2 884.6 1133.3 885.8 1143.0 C887.0 1152.7 887.7 1162.4 888.7 1172.0 C889.7 1181.4 890.4 1189.8 891.6 1200.0 C893.0 1212.2 895.0 1227.2 897.0 1240.0 C898.8 1251.8 900.6 1263.8 903.0 1274.0 C905.0 1282.5 907.1 1291.3 910.0 1297.0 C912.0 1300.9 914.4 1306.1 916.9 1306.0 C920.2 1305.9 924.3 1294.9 928.0 1290.0 C931.3 1285.6 934.2 1280.9 938.0 1278.0 C941.3 1275.5 945.9 1272.7 949.1 1273.0 C951.8 1273.3 954.0 1275.4 956.0 1278.0 C959.0 1281.8 960.8 1288.7 963.0 1295.0 C965.6 1302.5 967.4 1312.0 970.0 1320.0 C972.4 1327.6 973.7 1337.1 978.0 1342.0 C981.5 1346.0 986.6 1348.2 992.0 1349.0 C998.5 1349.9 1006.7 1346.8 1014.5 1345.0 C1023.3 1343.0 1032.9 1340.3 1042.0 1337.0 C1051.3 1333.6 1060.3 1329.3 1069.4 1325.0 C1078.6 1320.6 1088.0 1315.5 1096.8 1311.0 C1105.0 1306.8 1112.6 1303.0 1120.5 1299.0"/>
<path d="M289.0 1332.5 C291.3 1332.9 293.7 1333.4 296.0 1333.7 C298.3 1333.9 300.7 1334.0 303.0 1334.2 C305.3 1334.4 307.7 1334.6 310.0 1334.9 C312.3 1335.1 314.7 1335.0 317.0 1335.5 C319.4 1336.0 321.6 1337.3 324.0 1337.8 C326.3 1338.3 328.7 1338.1 331.0 1338.5 C333.3 1338.9 335.7 1339.8 338.0 1340.2 C340.3 1340.5 342.7 1340.2 345.0 1340.5 C347.4 1340.9 349.6 1342.0 352.0 1342.3 C354.3 1342.6 356.7 1342.1 359.0 1342.4 C361.4 1342.8 363.6 1344.0 366.0 1344.4 C368.3 1344.9 370.7 1345.1 373.0 1345.4 C375.3 1345.6 377.7 1345.6 380.0 1345.8 C382.3 1346.1 384.7 1346.7 387.0 1347.1 C389.3 1347.5 391.7 1348.2 394.0 1348.4 C396.3 1348.7 398.7 1348.3 401.0 1348.5 C403.3 1348.7 405.7 1349.4 408.0 1349.7 C410.3 1350.1 412.7 1350.6 415.0 1350.7 C417.3 1350.8 419.7 1350.2 422.0 1350.3 C424.3 1350.5 426.7 1351.6 429.0 1351.9 C431.3 1352.2 433.7 1352.0 436.0 1352.2 C438.3 1352.4 440.7 1353.0 443.0 1353.1 C445.3 1353.1 447.7 1352.8 450.0 1352.7 C452.3 1352.6 454.7 1352.4 457.0 1352.7 C459.4 1353.0 461.7 1354.0 464.0 1354.4 C466.3 1354.7 468.7 1354.8 471.0 1354.8 C473.3 1354.8 475.7 1354.7 478.0 1354.6 C480.3 1354.5 482.7 1354.3 485.0 1354.4 C487.3 1354.4 489.7 1354.7 492.0 1355.0 C494.3 1355.3 496.7 1356.0 499.0 1356.2 C501.3 1356.3 503.7 1355.7 506.0 1355.9 C508.3 1356.1 510.7 1357.2 513.0 1357.3 C515.3 1357.5 517.7 1357.1 520.0 1357.0 C522.3 1356.8 524.7 1356.4 527.0 1356.5 C529.3 1356.7 531.7 1357.5 534.0 1357.6 C536.3 1357.8 538.7 1357.2 541.0 1357.4 C543.3 1357.6 545.7 1358.4 548.0 1358.7 C550.3 1359.0 552.7 1359.0 555.0 1358.9 C557.3 1358.9 559.7 1358.5 562.0 1358.5 C564.3 1358.5 566.7 1358.9 569.0 1359.0 C571.3 1359.2 573.7 1359.3 576.0 1359.4 C578.3 1359.5 580.7 1359.7 583.0 1359.9 C585.3 1360.0 587.7 1360.6 590.0 1360.5 C592.3 1360.3 594.7 1359.1 597.0 1359.0 C599.3 1359.0 601.7 1359.7 604.0 1360.1 C606.3 1360.4 608.7 1360.9 611.0 1361.1 C613.3 1361.2 615.7 1360.9 618.0 1361.1 C620.3 1361.3 622.7 1362.0 625.0 1362.2 C627.3 1362.3 629.7 1361.6 632.0 1361.8 C634.4 1362.1 636.4 1363.4 639.0 1363.8 C642.2 1364.3 645.0 1363.9 650.0 1364.0 C660.6 1364.2 687.1 1364.9 700.0 1365.0 C708.2 1365.1 711.8 1365.1 720.0 1365.0 C732.9 1364.9 756.3 1366.0 770.0 1364.0 C779.9 1362.5 787.6 1360.7 795.0 1357.0 C802.0 1353.5 808.8 1348.4 813.4 1343.0 C817.5 1338.2 819.4 1332.0 822.0 1327.0 C824.2 1322.7 826.0 1319.2 828.0 1315.0 C830.3 1310.3 832.5 1305.2 835.0 1300.0 C837.8 1294.3 841.2 1287.7 844.0 1282.0 C846.5 1276.9 848.9 1272.2 851.0 1267.5 C852.9 1263.2 854.5 1259.4 856.0 1255.0 C857.6 1250.3 858.7 1244.9 860.0 1240.0 C861.3 1235.3 862.5 1231.1 863.9 1226.3 C865.4 1221.1 866.7 1214.5 868.8 1209.8 C870.6 1205.8 873.0 1199.7 875.1 1199.5 C876.7 1199.4 878.5 1202.3 880.0 1205.0 C882.6 1209.7 884.4 1218.8 886.0 1227.0 C888.0 1237.3 888.2 1250.3 890.0 1262.0 C891.8 1274.0 894.2 1287.3 897.0 1298.0 C899.3 1306.9 901.0 1315.8 905.0 1322.0 C908.4 1327.2 913.9 1334.2 918.0 1334.0 C922.2 1333.8 926.2 1324.4 930.0 1320.0 C933.5 1316.1 936.3 1311.7 940.0 1309.0 C943.2 1306.6 947.3 1303.7 950.4 1304.0 C953.2 1304.3 955.8 1307.2 958.0 1310.0 C960.9 1313.6 962.7 1319.8 965.0 1325.0 C967.4 1330.5 968.8 1337.7 972.0 1342.0 C974.7 1345.6 978.4 1348.5 982.0 1350.0 C985.2 1351.3 988.0 1351.2 992.0 1351.0 C998.0 1350.8 1006.7 1348.8 1014.5 1347.0 C1023.3 1345.0 1032.9 1342.1 1042.0 1339.0 C1051.2 1335.8 1060.3 1332.0 1069.4 1328.0 C1078.6 1324.0 1088.0 1319.0 1096.8 1315.0 C1104.9 1311.4 1112.6 1308.3 1120.5 1305.0"/>
<path d="M289.0 1334.7 C291.3 1334.9 293.7 1334.9 296.0 1335.3 C298.4 1335.8 300.6 1336.9 303.0 1337.2 C305.3 1337.5 307.7 1336.8 310.0 1337.1 C312.4 1337.4 314.7 1338.5 317.0 1338.9 C319.3 1339.3 321.7 1339.4 324.0 1339.6 C326.3 1339.7 328.7 1339.6 331.0 1340.0 C333.4 1340.3 335.6 1341.4 338.0 1341.7 C340.3 1342.1 342.7 1341.6 345.0 1341.9 C347.4 1342.2 349.6 1343.3 352.0 1343.7 C354.3 1344.0 356.7 1343.8 359.0 1344.1 C361.3 1344.3 363.7 1344.7 366.0 1345.2 C368.3 1345.6 370.7 1346.2 373.0 1346.8 C375.3 1347.4 377.6 1348.3 380.0 1348.6 C382.3 1348.8 384.7 1348.2 387.0 1348.4 C389.3 1348.5 391.7 1349.1 394.0 1349.6 C396.3 1350.1 398.7 1350.8 401.0 1351.3 C403.3 1351.8 405.7 1352.3 408.0 1352.4 C410.3 1352.6 412.7 1352.3 415.0 1352.3 C417.3 1352.4 419.7 1352.3 422.0 1352.6 C424.3 1352.9 426.7 1354.1 429.0 1354.2 C431.3 1354.3 433.7 1352.9 436.0 1353.1 C438.3 1353.2 440.6 1354.8 443.0 1355.1 C445.3 1355.3 447.7 1354.7 450.0 1354.6 C452.3 1354.5 454.7 1354.6 457.0 1354.6 C459.3 1354.7 461.7 1354.7 464.0 1354.9 C466.3 1355.0 468.7 1355.2 471.0 1355.5 C473.3 1355.8 475.7 1356.6 478.0 1356.7 C480.3 1356.7 482.7 1355.8 485.0 1355.8 C487.3 1355.8 489.7 1356.6 492.0 1356.8 C494.3 1357.1 496.7 1357.2 499.0 1357.2 C501.3 1357.2 503.7 1356.9 506.0 1357.0 C508.3 1357.1 510.7 1357.6 513.0 1357.6 C515.3 1357.6 517.7 1357.1 520.0 1357.0 C522.3 1357.0 524.7 1357.2 527.0 1357.3 C529.3 1357.4 531.7 1357.6 534.0 1357.8 C536.3 1358.1 538.7 1358.8 541.0 1359.0 C543.3 1359.1 545.7 1358.8 548.0 1358.8 C550.3 1358.8 552.7 1358.7 555.0 1358.9 C557.3 1359.0 559.7 1359.5 562.0 1359.6 C564.3 1359.8 566.7 1359.7 569.0 1359.7 C571.3 1359.7 573.7 1359.5 576.0 1359.7 C578.3 1359.9 580.7 1360.6 583.0 1360.8 C585.3 1361.1 587.7 1361.0 590.0 1361.0 C592.3 1360.9 594.7 1360.3 597.0 1360.4 C599.3 1360.5 601.7 1361.2 604.0 1361.5 C606.3 1361.7 608.7 1361.7 611.0 1361.9 C613.3 1362.2 615.7 1362.9 618.0 1363.1 C620.3 1363.4 622.7 1363.4 625.0 1363.4 C627.3 1363.4 629.7 1362.9 632.0 1363.2 C634.4 1363.4 636.4 1364.6 639.0 1365.0 C642.2 1365.4 645.0 1364.9 650.0 1365.0 C660.6 1365.1 687.1 1365.9 700.0 1366.0 C708.2 1366.1 711.7 1366.1 720.0 1366.0 C733.8 1365.9 760.3 1367.1 775.0 1365.0 C785.1 1363.5 792.3 1361.7 800.0 1358.0 C807.7 1354.3 816.0 1348.7 821.3 1343.0 C825.8 1338.2 828.0 1332.0 831.0 1327.0 C833.5 1322.7 835.8 1319.3 838.0 1315.0 C840.4 1310.3 842.2 1305.0 844.5 1300.0 C846.8 1295.0 849.6 1290.2 852.0 1285.0 C854.5 1279.4 856.9 1273.2 859.0 1267.5 C860.9 1262.2 862.2 1257.2 864.0 1252.0 C865.9 1246.7 867.7 1240.1 870.2 1236.0 C872.1 1232.9 874.5 1228.7 876.5 1228.7 C878.4 1228.7 880.5 1232.0 882.0 1235.0 C884.5 1240.1 885.3 1249.7 887.0 1258.0 C889.0 1267.8 890.7 1280.0 893.0 1290.0 C895.1 1298.9 897.1 1307.9 900.0 1315.0 C902.3 1320.8 904.6 1326.2 908.0 1330.0 C910.8 1333.2 914.7 1337.5 918.0 1337.0 C922.1 1336.4 926.1 1326.4 930.0 1322.0 C933.4 1318.2 936.4 1314.4 940.0 1312.0 C943.2 1309.9 947.3 1307.5 950.4 1308.0 C953.3 1308.4 955.7 1311.2 958.0 1314.0 C961.1 1317.8 963.3 1324.7 966.0 1330.0 C968.7 1335.3 970.5 1342.2 974.0 1346.0 C976.8 1349.0 980.7 1350.9 984.0 1352.0 C986.7 1352.9 988.7 1353.2 992.0 1353.0 C997.6 1352.7 1006.6 1349.9 1014.5 1348.0 C1023.2 1345.9 1032.9 1344.0 1042.0 1341.0 C1051.2 1338.0 1060.3 1333.8 1069.4 1330.0 C1078.6 1326.2 1087.9 1321.4 1096.8 1318.0 C1104.9 1314.9 1112.6 1312.7 1120.5 1310.0"/>
<path d="M289.0 1337.5 C291.3 1338.2 293.6 1339.4 296.0 1339.7 C298.3 1339.9 300.7 1338.8 303.0 1339.0 C305.4 1339.2 307.6 1340.6 310.0 1340.8 C312.3 1341.1 314.7 1340.4 317.0 1340.5 C319.3 1340.7 321.7 1341.1 324.0 1341.7 C326.4 1342.2 328.6 1343.6 331.0 1343.8 C333.3 1344.1 335.7 1343.1 338.0 1343.2 C340.3 1343.4 342.7 1344.6 345.0 1345.0 C347.3 1345.4 349.7 1345.4 352.0 1345.7 C354.3 1346.0 356.7 1346.4 359.0 1346.8 C361.3 1347.1 363.7 1347.6 366.0 1347.9 C368.3 1348.2 370.7 1348.0 373.0 1348.4 C375.4 1348.8 377.6 1350.3 380.0 1350.6 C382.3 1350.9 384.7 1350.1 387.0 1350.3 C389.3 1350.5 391.7 1351.3 394.0 1351.6 C396.3 1351.9 398.7 1352.0 401.0 1352.2 C403.3 1352.5 405.7 1352.9 408.0 1353.2 C410.3 1353.5 412.7 1353.7 415.0 1354.0 C417.3 1354.4 419.7 1355.3 422.0 1355.5 C424.3 1355.7 426.7 1355.2 429.0 1355.1 C431.3 1355.1 433.7 1355.0 436.0 1355.2 C438.3 1355.3 440.7 1355.6 443.0 1356.0 C445.3 1356.5 447.7 1357.8 450.0 1357.9 C452.3 1357.9 454.7 1356.4 457.0 1356.4 C459.3 1356.3 461.7 1357.4 464.0 1357.5 C466.3 1357.6 468.7 1357.1 471.0 1357.2 C473.3 1357.3 475.7 1357.8 478.0 1357.8 C480.3 1357.9 482.7 1357.4 485.0 1357.4 C487.3 1357.5 489.7 1358.1 492.0 1358.2 C494.3 1358.3 496.7 1357.9 499.0 1358.0 C501.3 1358.0 503.7 1358.3 506.0 1358.5 C508.3 1358.7 510.7 1359.2 513.0 1359.2 C515.3 1359.3 517.7 1359.1 520.0 1358.9 C522.3 1358.8 524.7 1358.5 527.0 1358.4 C529.3 1358.4 531.7 1358.2 534.0 1358.6 C536.4 1358.9 538.6 1360.2 541.0 1360.4 C543.3 1360.7 545.7 1360.0 548.0 1359.9 C550.3 1359.8 552.7 1359.4 555.0 1359.6 C557.3 1359.9 559.7 1361.1 562.0 1361.3 C564.3 1361.5 566.7 1360.9 569.0 1360.9 C571.3 1360.9 573.7 1361.3 576.0 1361.5 C578.3 1361.6 580.7 1362.0 583.0 1362.0 C585.3 1362.0 587.7 1361.3 590.0 1361.2 C592.3 1361.2 594.7 1361.3 597.0 1361.6 C599.3 1361.9 601.7 1362.9 604.0 1363.0 C606.3 1363.1 608.7 1362.1 611.0 1362.2 C613.3 1362.4 615.7 1363.7 618.0 1363.9 C620.3 1364.1 622.7 1363.1 625.0 1363.3 C627.3 1363.4 629.7 1364.5 632.0 1364.9 C634.3 1365.3 636.4 1365.3 639.0 1365.5 C642.3 1365.7 645.0 1365.8 650.0 1366.0 C660.6 1366.4 687.1 1366.9 700.0 1367.0 C708.2 1367.1 711.5 1367.1 720.0 1367.0 C734.6 1366.9 764.4 1368.3 780.0 1366.0 C790.2 1364.5 797.1 1362.7 805.0 1359.0 C813.2 1355.1 822.1 1348.9 828.0 1343.0 C832.9 1338.1 836.0 1332.0 839.0 1327.0 C841.5 1322.8 843.2 1319.3 845.0 1315.0 C846.9 1310.3 848.0 1304.9 850.0 1300.0 C852.0 1294.9 854.6 1289.4 857.0 1285.0 C859.0 1281.3 861.1 1278.1 863.0 1275.0 C864.7 1272.3 866.2 1269.8 867.8 1267.5 C869.2 1265.5 870.4 1263.3 872.0 1262.0 C873.4 1260.8 874.8 1259.5 876.5 1259.6 C878.7 1259.7 882.0 1262.1 884.0 1265.0 C887.1 1269.3 888.0 1278.0 890.0 1285.0 C892.3 1292.9 894.3 1302.4 897.0 1310.0 C899.4 1316.6 901.3 1323.1 905.0 1328.0 C908.4 1332.6 913.9 1339.3 918.0 1339.0 C922.2 1338.7 926.1 1330.0 930.0 1326.0 C933.4 1322.4 936.3 1318.2 940.0 1316.0 C943.2 1314.1 947.3 1312.5 950.4 1313.0 C953.2 1313.4 955.7 1315.5 958.0 1318.0 C961.1 1321.4 963.2 1328.0 966.0 1333.0 C968.9 1338.0 971.5 1344.6 975.0 1348.0 C977.7 1350.6 981.0 1352.0 984.0 1353.0 C986.7 1353.9 988.7 1354.1 992.0 1354.0 C997.6 1353.9 1006.7 1351.7 1014.5 1350.0 C1023.2 1348.1 1032.9 1345.8 1042.0 1343.0 C1051.2 1340.2 1060.3 1336.5 1069.4 1333.0 C1078.6 1329.5 1087.9 1324.9 1096.8 1322.0 C1104.9 1319.4 1112.6 1318.0 1120.5 1316.0"/>
</g>
<path d="M287.7 49.4 H1134.0 V1435.6 H287.7 Z" fill="none" stroke="#111" stroke-width="4.6" stroke-linejoin="miter"/>
<path d="M287.7 1435.6 V1461.6 M569.8 1435.6 V1461.6 M851.9 1435.6 V1461.6 M1134.0 1435.6 V1461.6 M428.7 1435.6 V1448.6 M710.8 1435.6 V1448.6 M992.9 1435.6 V1448.6 M287.7 1376.7 H261.7 M287.7 1081.7 H261.7 M287.7 786.7 H261.7 M287.7 491.7 H261.7 M287.7 196.7 H261.7 M287.7 1229.2 H274.2 M287.7 934.2 H274.2 M287.7 639.2 H274.2 M287.7 344.2 H274.2 M287.7 49.2 H274.2" stroke="#111" stroke-width="4.6" fill="none"/>
<g font-size="70" fill="#000">
<text transform="translate(244 1397.7) scale(1 1.03)" text-anchor="end">0</text>
<text transform="translate(244 1102.7) scale(1 1.03)" text-anchor="end">-1</text>
<text transform="translate(244 807.7) scale(1 1.03)" text-anchor="end">-2</text>
<text transform="translate(244 512.7) scale(1 1.03)" text-anchor="end">-3</text>
<text transform="translate(244 217.7) scale(1 1.03)" text-anchor="end">-4</text>
<text transform="translate(287.7 1534) scale(1 1.03)" text-anchor="middle">-200</text>
<text transform="translate(569.8 1534) scale(1 1.03)" text-anchor="middle">-400</text>
<text transform="translate(851.9 1534) scale(1 1.03)" text-anchor="middle">-600</text>
<text transform="translate(1134.0 1534) scale(1 1.03)" text-anchor="middle">-800</text>
</g>
<text x="314" y="131.5" font-size="70">a</text>
<text x="450" y="1663.6" font-size="87.3">Potential, mV</text>
<text transform="translate(104.5 921.5) rotate(-90)" x="0" y="0" font-size="87.3">Current, µA</text>
<path d="M1412.8 49.4 H2258.4 V1436.0 H1412.8 Z" fill="none" stroke="#111" stroke-width="4.6" stroke-linejoin="miter"/>
<path d="M1533.6 1436.0 V1462.0 M1775.1 1436.0 V1462.0 M2016.7 1436.0 V1462.0 M2258.2 1436.0 V1462.0 M1412.8 1436.0 V1449.0 M1654.4 1436.0 V1449.0 M1895.9 1436.0 V1449.0 M2137.4 1436.0 V1449.0 M1412.8 1329.4 H1385.8 M1412.8 1116.1 H1385.8 M1412.8 902.8 H1385.8 M1412.8 689.5 H1385.8 M1412.8 476.2 H1385.8 M1412.8 262.9 H1385.8 M1412.8 49.6 H1385.8 M1412.8 1436.1 H1398.8 M1412.8 1222.8 H1398.8 M1412.8 1009.5 H1398.8 M1412.8 796.2 H1398.8 M1412.8 582.9 H1398.8 M1412.8 369.6 H1398.8 M1412.8 156.2 H1398.8" stroke="#111" stroke-width="4.6" fill="none"/>
<g font-size="70" fill="#000">
<text transform="translate(1368 1350.4) scale(1 1.03)" text-anchor="end">0</text>
<text transform="translate(1368 1137.1) scale(1 1.03)" text-anchor="end">-1</text>
<text transform="translate(1368 923.8) scale(1 1.03)" text-anchor="end">-2</text>
<text transform="translate(1368 710.5) scale(1 1.03)" text-anchor="end">-3</text>
<text transform="translate(1368 497.2) scale(1 1.03)" text-anchor="end">-4</text>
<text transform="translate(1368 283.9) scale(1 1.03)" text-anchor="end">-5</text>
<text transform="translate(1368 70.6) scale(1 1.03)" text-anchor="end">-6</text>
<text transform="translate(1533.6 1534) scale(1 1.03)" text-anchor="middle">0</text>
<text transform="translate(1775.1 1534) scale(1 1.03)" text-anchor="middle">100</text>
<text transform="translate(2016.7 1534) scale(1 1.03)" text-anchor="middle">200</text>
<text transform="translate(2258.2 1534) scale(1 1.03)" text-anchor="middle">300</text>
</g>
<text x="1447.5" y="130" font-size="70">b</text>
<text x="2164" y="208" font-size="70">a</text>
<text x="2167.5" y="356" font-size="70">b</text>
<text x="2155" y="783" font-size="70">c</text>
<text x="1364.5" y="1663.6" font-size="87.3">Preconcentration time, s</text>
<text transform="translate(1256 1067) rotate(-90)" x="0" y="0" font-size="87.3">Peak current, µA</text>
<path d="M1535.1 1201.4 L1535.8 1197.1 L1536.5 1192.8 L1537.2 1188.5 L1538.0 1184.2 L1538.7 1179.9 L1539.4 1175.6 L1540.1 1171.4 L1540.8 1167.1 L1541.6 1162.8 L1542.3 1158.5 L1543.0 1154.2 L1543.7 1149.9 L1544.4 1145.7 L1545.2 1141.4 L1545.9 1137.1 L1546.6 1132.8 L1547.4 1128.5 L1548.1 1124.3 L1548.8 1120.0 L1549.5 1115.7 L1550.3 1111.4 L1551.0 1107.1 L1551.7 1102.9 L1552.5 1098.6 L1553.2 1094.3 L1553.9 1090.0 L1554.7 1085.8 L1555.4 1081.5 L1556.1 1077.2 L1556.9 1072.9 L1557.6 1068.7 L1558.3 1064.4 L1559.1 1060.1 L1559.8 1055.8 L1560.6 1051.6 L1561.3 1047.3 L1562.0 1043.0 L1562.8 1038.7 L1563.5 1034.5 L1564.2 1030.2 L1565.0 1025.9 L1565.7 1021.6 L1566.5 1017.4 L1567.2 1013.1 L1568.0 1008.8 L1568.7 1004.6 L1569.4 1000.3 L1570.2 996.0 L1570.9 991.7 L1571.7 987.5 L1572.4 983.2 L1573.2 978.9 L1573.9 974.7 L1574.6 970.4 L1575.4 966.1 L1576.1 961.8 L1576.9 957.6 L1577.6 953.3 L1578.4 949.0 L1579.1 944.8 L1579.9 940.5 L1580.6 936.2 L1581.4 932.0 L1582.1 927.7 L1582.9 923.4 L1583.6 919.1 L1584.3 914.9 L1585.1 910.6 L1585.8 906.3 L1586.6 902.1 L1587.3 897.8 L1588.1 893.5 L1588.8 889.3 L1589.6 885.0 L1590.3 880.7 L1591.1 876.5 L1591.8 872.2 L1592.6 867.9 L1593.3 863.7 L1594.1 859.4 L1594.8 855.1 L1595.5 850.8 L1596.3 846.6 L1597.0 842.3 L1597.8 838.0 L1598.5 833.8 L1599.3 829.5 L1600.0 825.2 L1600.8 821.0 L1601.5 816.7 L1602.3 812.4 L1603.0 808.2 L1603.7 803.9 L1604.5 799.6 L1605.2 795.3 L1606.0 791.1 L1606.7 786.8 L1607.5 782.5 L1608.2 778.3 L1608.9 774.0 L1609.7 769.7 L1610.4 765.5 L1611.2 761.2 L1611.9 756.9 L1612.6 752.7 L1613.4 748.4 L1614.1 744.1 L1614.9 739.8 L1615.6 735.6 L1616.3 731.3 L1617.1 727.0 L1617.8 722.8 L1618.5 718.5 L1619.3 714.2 L1620.0 709.9 L1620.7 705.7 L1621.5 701.4 L1622.2 697.1 L1622.9 692.9 L1623.7 688.6 L1624.4 684.3 L1625.1 680.0 L1625.9 675.8 L1626.6 671.5 L1627.3 667.2 L1628.0 662.9 L1628.8 658.7 L1629.5 654.4 L1630.2 650.1 L1630.9 645.8 L1631.7 641.6 L1632.4 637.3 L1633.1 633.0 L1633.8 628.7 L1634.6 624.5 L1635.3 620.2 L1636.0 615.9 L1636.8 611.6 L1637.5 607.4 L1638.3 603.1 L1639.0 598.8 L1639.8 594.5 L1640.5 590.3 L1641.3 586.0 L1642.1 581.7 L1642.9 577.5 L1643.7 573.2 L1644.5 568.9 L1645.3 564.7 L1646.1 560.4 L1646.9 556.1 L1647.8 551.9 L1648.6 547.6 L1649.5 543.4 L1650.3 539.1 L1651.2 534.9 L1652.1 530.6 L1653.1 526.4 L1654.0 522.1 L1654.9 517.9 L1655.9 513.6 L1656.9 509.4 L1657.9 505.2 L1658.9 500.9 L1659.9 496.7 L1661.0 492.5 L1662.0 488.3 L1663.1 484.0 L1664.2 479.8 L1665.4 475.6 L1666.5 471.4 L1667.7 467.2 L1668.9 463.0 L1670.1 458.8 L1671.3 454.6 L1672.6 450.4 L1673.9 446.2 L1675.2 442.1 L1676.5 437.9 L1677.9 433.7 L1679.3 429.6 L1680.8 425.4 L1682.2 421.3 L1683.8 417.2 L1685.3 413.2 L1686.9 409.1 L1688.6 405.1 L1690.3 401.1 L1692.1 397.1 L1693.9 393.2 L1695.7 389.3 L1697.6 385.4 L1699.6 381.6 L1701.7 377.8 L1703.8 374.1 L1706.0 370.4 L1708.2 366.7 L1710.5 363.1 L1712.9 359.6 L1715.4 356.1 L1717.9 352.7 L1720.5 349.3 L1723.2 346.0 L1725.9 342.7 L1728.7 339.5 L1731.6 336.3 L1734.5 333.2 L1737.5 330.2 L1740.6 327.2 L1743.7 324.3 L1746.9 321.4 L1750.1 318.6 L1753.4 315.9 L1756.7 313.2 L1760.1 310.6 L1763.6 308.0 L1767.1 305.5 L1770.6 303.1 L1774.2 300.7 L1777.8 298.4 L1781.5 296.2 L1785.2 294.0 L1789.0 291.9 L1792.7 289.9 L1796.6 287.9 L1800.4 286.0 L1804.3 284.1 L1808.3 282.4 L1812.3 280.7 L1816.2 279.1 L1820.3 277.5 L1824.3 276.0 L1828.4 274.6 L1832.5 273.2 L1836.6 272.0 L1840.8 270.8 L1845.0 269.6 L1849.2 268.6 L1853.4 267.6 L1857.6 266.7 L1861.8 265.9 L1866.1 265.1 L1870.3 264.4 L1874.6 263.8 L1878.9 263.3 L1883.2 262.8 L1887.5 262.3 L1891.9 262.0 L1896.2 261.7 L1900.5 261.4 L1904.9 261.2 L1909.3 261.1 L1913.6 261.0 L1918.0 260.9 L1922.4 260.9 L1926.8 261.0 L1931.2 261.1 L1935.6 261.2 L1940.0 261.3 L1944.4 261.5 L1948.8 261.8 L1953.2 262.0 L1957.6 262.3 L1962.1 262.6 L1966.5 263.0 L1970.9 263.4 L1975.3 263.7 L1979.7 264.2 L1984.1 264.6 L1988.5 265.0 L1993.0 265.5 L1997.4 266.0 L2001.8 266.4 L2006.2 266.9 L2010.5 267.4 L2014.9 267.9 L2019.3 268.4 L2023.7 268.9 L2028.0 269.4 L2032.4 269.9 L2036.7 270.4 L2041.1 270.8 L2045.4 271.3 L2049.7 271.7 L2054.0 272.2 L2058.3 272.6 L2062.5 273.0 L2066.8 273.4 L2071.1 273.7 L2075.3 274.1 L2079.5 274.4 L2083.7 274.6 L2087.9 274.9 L2092.1 275.1 L2096.2 275.3 L2100.3 275.4 L2104.5 275.5 L2108.5 275.6 L2112.6 275.6" fill="none" stroke="#1a1a1a" stroke-width="3.0" stroke-linejoin="round"/>
<path d="M1534.7 1271.0 L1536.0 1267.3 L1537.4 1263.6 L1538.7 1259.9 L1540.1 1256.2 L1541.4 1252.4 L1542.7 1248.7 L1544.1 1245.0 L1545.4 1241.3 L1546.7 1237.5 L1548.0 1233.8 L1549.3 1230.1 L1550.6 1226.3 L1551.9 1222.6 L1553.2 1218.9 L1554.5 1215.1 L1555.8 1211.4 L1557.1 1207.7 L1558.4 1203.9 L1559.7 1200.2 L1560.9 1196.4 L1562.2 1192.7 L1563.5 1188.9 L1564.8 1185.2 L1566.0 1181.4 L1567.3 1177.7 L1568.5 1173.9 L1569.8 1170.2 L1571.0 1166.4 L1572.3 1162.7 L1573.5 1158.9 L1574.8 1155.1 L1576.0 1151.4 L1577.3 1147.6 L1578.5 1143.9 L1579.7 1140.1 L1581.0 1136.3 L1582.2 1132.6 L1583.4 1128.8 L1584.6 1125.0 L1585.9 1121.3 L1587.1 1117.5 L1588.3 1113.7 L1589.5 1109.9 L1590.7 1106.2 L1591.9 1102.4 L1593.1 1098.6 L1594.3 1094.8 L1595.6 1091.1 L1596.8 1087.3 L1598.0 1083.5 L1599.2 1079.7 L1600.4 1076.0 L1601.6 1072.2 L1602.8 1068.4 L1603.9 1064.6 L1605.1 1060.9 L1606.3 1057.1 L1607.5 1053.3 L1608.7 1049.5 L1609.9 1045.7 L1611.1 1041.9 L1612.3 1038.2 L1613.5 1034.4 L1614.7 1030.6 L1615.8 1026.8 L1617.0 1023.0 L1618.2 1019.3 L1619.4 1015.5 L1620.6 1011.7 L1621.7 1007.9 L1622.9 1004.1 L1624.1 1000.3 L1625.3 996.6 L1626.5 992.8 L1627.7 989.0 L1628.8 985.2 L1630.0 981.4 L1631.2 977.6 L1632.4 973.9 L1633.6 970.1 L1634.7 966.3 L1635.9 962.5 L1637.1 958.7 L1638.3 955.0 L1639.5 951.2 L1640.6 947.4 L1641.8 943.6 L1643.0 939.8 L1644.2 936.1 L1645.4 932.3 L1646.6 928.5 L1647.7 924.7 L1648.9 920.9 L1650.1 917.2 L1651.3 913.4 L1652.5 909.6 L1653.7 905.8 L1654.9 902.1 L1656.1 898.3 L1657.3 894.5 L1658.5 890.8 L1659.7 887.0 L1660.9 883.2 L1662.1 879.4 L1663.3 875.7 L1664.5 871.9 L1665.7 868.1 L1666.9 864.4 L1668.1 860.6 L1669.3 856.8 L1670.5 853.1 L1671.7 849.3 L1673.0 845.6 L1674.2 841.8 L1675.4 838.0 L1676.6 834.3 L1677.8 830.5 L1679.1 826.8 L1680.3 823.0 L1681.5 819.3 L1682.8 815.5 L1684.0 811.8 L1685.3 808.0 L1686.5 804.3 L1687.7 800.5 L1689.0 796.8 L1690.2 793.1 L1691.5 789.3 L1692.8 785.6 L1694.0 781.8 L1695.3 778.1 L1696.5 774.4 L1697.8 770.6 L1699.1 766.9 L1700.4 763.2 L1701.6 759.4 L1702.9 755.7 L1704.2 752.0 L1705.5 748.2 L1706.8 744.5 L1708.1 740.8 L1709.3 737.1 L1710.6 733.3 L1711.9 729.6 L1713.2 725.9 L1714.5 722.1 L1715.9 718.4 L1717.2 714.7 L1718.5 711.0 L1719.8 707.2 L1721.1 703.5 L1722.4 699.8 L1723.7 696.1 L1725.1 692.3 L1726.4 688.6 L1727.7 684.9 L1729.0 681.2 L1730.4 677.4 L1731.7 673.7 L1733.1 670.0 L1734.4 666.2 L1735.7 662.5 L1737.1 658.8 L1738.4 655.1 L1739.8 651.3 L1741.2 647.6 L1742.5 643.9 L1743.9 640.1 L1745.2 636.4 L1746.6 632.7 L1748.0 628.9 L1749.3 625.2 L1750.7 621.5 L1752.1 617.7 L1753.5 614.0 L1754.9 610.3 L1756.2 606.5 L1757.6 602.8 L1759.0 599.0 L1760.4 595.3 L1761.8 591.6 L1763.2 587.8 L1764.6 584.1 L1766.1 580.4 L1767.5 576.6 L1769.0 572.9 L1770.4 569.2 L1771.9 565.5 L1773.4 561.8 L1775.0 558.1 L1776.5 554.5 L1778.1 550.8 L1779.7 547.2 L1781.3 543.5 L1782.9 539.9 L1784.6 536.3 L1786.3 532.7 L1788.0 529.2 L1789.8 525.6 L1791.6 522.1 L1793.4 518.6 L1795.3 515.1 L1797.2 511.7 L1799.1 508.3 L1801.1 504.9 L1803.2 501.5 L1805.2 498.1 L1807.3 494.8 L1809.4 491.5 L1811.6 488.2 L1813.8 485.0 L1816.1 481.7 L1818.4 478.5 L1820.7 475.4 L1823.0 472.2 L1825.4 469.1 L1827.9 466.1 L1830.3 463.0 L1832.8 460.0 L1835.4 457.0 L1837.9 454.1 L1840.5 451.1 L1843.2 448.3 L1845.9 445.4 L1848.6 442.6 L1851.3 439.8 L1854.1 437.0 L1856.9 434.3 L1859.7 431.7 L1862.6 429.0 L1865.5 426.4 L1868.5 423.8 L1871.5 421.3 L1874.5 418.8 L1877.5 416.3 L1880.6 413.9 L1883.7 411.5 L1886.8 409.2 L1890.0 406.9 L1893.2 404.6 L1896.4 402.4 L1899.7 400.2 L1903.0 398.1 L1906.3 396.0 L1909.6 394.0 L1913.0 391.9 L1916.4 390.0 L1919.9 388.1 L1923.4 386.2 L1926.9 384.4 L1930.4 382.6 L1933.9 380.8 L1937.5 379.1 L1941.1 377.5 L1944.8 375.9 L1948.4 374.3 L1952.1 372.8 L1955.8 371.3 L1959.6 369.8 L1963.3 368.4 L1967.1 367.1 L1970.9 365.7 L1974.7 364.4 L1978.5 363.2 L1982.3 361.9 L1986.2 360.7 L1990.0 359.5 L1993.9 358.4 L1997.8 357.3 L2001.7 356.2 L2005.6 355.1 L2009.5 354.1 L2013.4 353.0 L2017.3 352.1 L2021.2 351.1 L2025.1 350.1 L2029.0 349.2 L2033.0 348.3 L2036.9 347.4 L2040.8 346.5 L2044.7 345.6 L2048.6 344.8 L2052.5 343.9 L2056.4 343.1 L2060.3 342.3 L2064.2 341.5 L2068.1 340.7 L2072.0 339.9 L2075.8 339.1 L2079.6 338.3 L2083.5 337.5 L2087.3 336.8 L2091.1 336.0 L2094.8 335.2 L2098.6 334.5 L2102.3 333.7 L2106.1 332.9 L2109.8 332.2 L2113.4 331.4" fill="none" stroke="#444" stroke-width="2.2" stroke-linejoin="round"/>
<path d="M1536.4 1304.6 L1538.2 1303.0 L1540.1 1301.4 L1541.9 1299.8 L1543.7 1298.2 L1545.6 1296.6 L1547.4 1295.0 L1549.2 1293.3 L1551.1 1291.7 L1552.9 1290.1 L1554.7 1288.4 L1556.5 1286.8 L1558.4 1285.1 L1560.2 1283.5 L1562.0 1281.8 L1563.8 1280.2 L1565.6 1278.5 L1567.4 1276.8 L1569.2 1275.2 L1571.1 1273.5 L1572.9 1271.8 L1574.7 1270.1 L1576.5 1268.5 L1578.3 1266.8 L1580.1 1265.1 L1581.9 1263.4 L1583.7 1261.7 L1585.5 1260.0 L1587.3 1258.3 L1589.1 1256.6 L1590.9 1254.9 L1592.6 1253.2 L1594.4 1251.5 L1596.2 1249.8 L1598.0 1248.0 L1599.8 1246.3 L1601.6 1244.6 L1603.4 1242.9 L1605.1 1241.2 L1606.9 1239.4 L1608.7 1237.7 L1610.5 1236.0 L1612.3 1234.2 L1614.0 1232.5 L1615.8 1230.7 L1617.6 1229.0 L1619.4 1227.3 L1621.1 1225.5 L1622.9 1223.8 L1624.7 1222.0 L1626.4 1220.3 L1628.2 1218.5 L1630.0 1216.8 L1631.7 1215.0 L1633.5 1213.2 L1635.3 1211.5 L1637.0 1209.7 L1638.8 1207.9 L1640.6 1206.2 L1642.3 1204.4 L1644.1 1202.6 L1645.9 1200.9 L1647.6 1199.1 L1649.4 1197.3 L1651.1 1195.5 L1652.9 1193.8 L1654.7 1192.0 L1656.4 1190.2 L1658.2 1188.4 L1660.0 1186.7 L1661.7 1184.9 L1663.5 1183.1 L1665.2 1181.3 L1667.0 1179.5 L1668.7 1177.7 L1670.5 1176.0 L1672.3 1174.2 L1674.0 1172.4 L1675.8 1170.6 L1677.5 1168.8 L1679.3 1167.0 L1681.1 1165.2 L1682.8 1163.4 L1684.6 1161.6 L1686.3 1159.8 L1688.1 1158.1 L1689.8 1156.3 L1691.6 1154.5 L1693.4 1152.7 L1695.1 1150.9 L1696.9 1149.1 L1698.6 1147.3 L1700.4 1145.5 L1702.2 1143.7 L1703.9 1141.9 L1705.7 1140.1 L1707.4 1138.3 L1709.2 1136.5 L1711.0 1134.8 L1712.7 1133.0 L1714.5 1131.2 L1716.3 1129.4 L1718.0 1127.6 L1719.8 1125.8 L1721.6 1124.0 L1723.3 1122.2 L1725.1 1120.4 L1726.9 1118.6 L1728.6 1116.9 L1730.4 1115.1 L1732.2 1113.3 L1733.9 1111.5 L1735.7 1109.7 L1737.5 1107.9 L1739.3 1106.2 L1741.0 1104.4 L1742.8 1102.6 L1744.6 1100.8 L1746.4 1099.0 L1748.2 1097.3 L1749.9 1095.5 L1751.7 1093.7 L1753.5 1091.9 L1755.3 1090.2 L1757.1 1088.4 L1758.9 1086.6 L1760.6 1084.9 L1762.4 1083.1 L1764.2 1081.3 L1766.0 1079.6 L1767.8 1077.8 L1769.6 1076.1 L1771.4 1074.3 L1773.2 1072.5 L1775.0 1070.8 L1776.8 1069.0 L1778.6 1067.3 L1780.4 1065.5 L1782.2 1063.8 L1784.0 1062.1 L1785.8 1060.3 L1787.6 1058.6 L1789.5 1056.8 L1791.3 1055.1 L1793.1 1053.4 L1794.9 1051.7 L1796.7 1049.9 L1798.6 1048.2 L1800.4 1046.5 L1802.2 1044.8 L1804.0 1043.0 L1805.9 1041.3 L1807.7 1039.6 L1809.5 1037.9 L1811.4 1036.2 L1813.2 1034.5 L1815.0 1032.8 L1816.9 1031.1 L1818.7 1029.4 L1820.6 1027.7 L1822.4 1026.0 L1824.3 1024.3 L1826.1 1022.7 L1828.0 1021.0 L1829.8 1019.3 L1831.7 1017.6 L1833.6 1016.0 L1835.4 1014.3 L1837.3 1012.6 L1839.2 1011.0 L1841.0 1009.3 L1842.9 1007.7 L1844.8 1006.0 L1846.7 1004.4 L1848.5 1002.7 L1850.4 1001.1 L1852.3 999.5 L1854.2 997.8 L1856.1 996.2 L1858.0 994.6 L1859.9 993.0 L1861.8 991.4 L1863.7 989.8 L1865.6 988.2 L1867.5 986.6 L1869.4 985.0 L1871.3 983.4 L1873.3 981.8 L1875.2 980.2 L1877.1 978.6 L1879.0 977.0 L1881.0 975.5 L1882.9 973.9 L1884.8 972.3 L1886.8 970.8 L1888.7 969.2 L1890.7 967.7 L1892.6 966.1 L1894.6 964.6 L1896.5 963.1 L1898.5 961.5 L1900.5 960.0 L1902.4 958.5 L1904.4 957.0 L1906.4 955.5 L1908.4 954.0 L1910.3 952.5 L1912.3 951.0 L1914.3 949.5 L1916.3 948.0 L1918.3 946.5 L1920.3 945.1 L1922.3 943.6 L1924.3 942.1 L1926.3 940.7 L1928.3 939.2 L1930.3 937.8 L1932.4 936.3 L1934.4 934.9 L1936.4 933.5 L1938.5 932.1 L1940.5 930.6 L1942.5 929.2 L1944.6 927.8 L1946.6 926.4 L1948.7 925.0 L1950.7 923.7 L1952.8 922.3 L1954.9 920.9 L1956.9 919.5 L1959.0 918.2 L1961.1 916.8 L1963.2 915.5 L1965.3 914.1 L1967.3 912.8 L1969.4 911.5 L1971.5 910.1 L1973.6 908.8 L1975.7 907.5 L1977.9 906.2 L1980.0 904.9 L1982.1 903.6 L1984.2 902.3 L1986.4 901.1 L1988.5 899.8 L1990.6 898.5 L1992.8 897.3 L1994.9 896.0 L1997.1 894.8 L1999.2 893.5 L2001.4 892.3 L2003.6 891.1 L2005.7 889.9 L2007.9 888.7 L2010.1 887.5 L2012.3 886.3 L2014.5 885.1 L2016.7 883.9 L2018.9 882.8 L2021.1 881.6 L2023.3 880.4 L2025.5 879.3 L2027.7 878.2 L2030.0 877.0 L2032.2 875.9 L2034.4 874.8 L2036.7 873.7 L2038.9 872.6 L2041.2 871.5 L2043.4 870.4 L2045.7 869.3 L2048.0 868.3 L2050.2 867.2 L2052.5 866.2 L2054.8 865.1 L2057.1 864.1 L2059.4 863.1 L2061.7 862.0 L2064.0 861.0 L2066.3 860.0 L2068.6 859.0 L2070.9 858.1 L2073.3 857.1 L2075.6 856.1 L2078.0 855.2 L2080.3 854.2 L2082.6 853.3 L2085.0 852.3 L2087.4 851.4 L2089.7 850.5 L2092.1 849.6 L2094.5 848.7 L2096.9 847.8 L2099.3 846.9 L2101.7 846.1 L2104.1 845.2 L2106.5 844.4 L2108.9 843.5 L2111.3 842.7 L2113.8 841.9" fill="none" stroke="#1a1a1a" stroke-width="3.0" stroke-linejoin="round"/>
<g fill="none"><path d="M1533.6 1196.7 V1205.3" stroke="#707070" stroke-width="2.2"/><path d="M1509.6 1196.7 H1557.6 M1509.6 1205.3 H1557.6" stroke="#808080" stroke-width="3.4"/><path d="M1545.7 1142.0 V1152.0" stroke="#707070" stroke-width="2.2"/><path d="M1521.7 1142.0 H1569.7 M1521.7 1152.0 H1569.7" stroke="#808080" stroke-width="3.4"/><path d="M1557.8 1070.2 V1079.8" stroke="#707070" stroke-width="2.2"/><path d="M1533.8 1070.2 H1581.8 M1533.8 1079.8 H1581.8" stroke="#808080" stroke-width="3.4"/><path d="M1581.9 916.3 V939.7" stroke="#707070" stroke-width="2.2"/><path d="M1557.9 916.3 H1605.9 M1557.9 939.7 H1605.9" stroke="#808080" stroke-width="3.4"/><path d="M1606.1 793.2 V805.8" stroke="#707070" stroke-width="2.2"/><path d="M1582.1 793.2 H1630.1 M1582.1 805.8 H1630.1" stroke="#808080" stroke-width="3.4"/><path d="M1678.5 371.8 V386.2" stroke="#707070" stroke-width="2.2"/><path d="M1654.5 371.8 H1702.5 M1654.5 386.2 H1702.5" stroke="#808080" stroke-width="3.4"/><path d="M1751.0 301.3 V334.7" stroke="#707070" stroke-width="2.2"/><path d="M1727.0 301.3 H1775.0 M1727.0 334.7 H1775.0" stroke="#808080" stroke-width="3.4"/><path d="M1823.4 241.5 V283.5" stroke="#707070" stroke-width="2.2"/><path d="M1799.4 241.5 H1847.4 M1799.4 283.5 H1847.4" stroke="#808080" stroke-width="3.4"/><path d="M1968.4 231.5 V290.5" stroke="#707070" stroke-width="2.2"/><path d="M1944.4 231.5 H1992.4 M1944.4 290.5 H1992.4" stroke="#808080" stroke-width="3.4"/><path d="M2113.3 253.7 V298.3" stroke="#707070" stroke-width="2.2"/><path d="M2089.3 253.7 H2137.3 M2089.3 298.3 H2137.3" stroke="#808080" stroke-width="3.4"/><path d="M1823.4 426.5 V458.1" stroke="#707070" stroke-width="2.2"/><path d="M1810.4 426.5 H1836.4 M1810.4 458.1 H1836.4" stroke="#808080" stroke-width="3.4"/><path d="M1968.4 341.6 V376.4" stroke="#707070" stroke-width="2.2"/><path d="M1955.4 341.6 H1981.4 M1955.4 376.4 H1981.4" stroke="#808080" stroke-width="3.4"/><path d="M2113.3 315.8 V346.6" stroke="#707070" stroke-width="2.2"/><path d="M2100.3 315.8 H2126.3 M2100.3 346.6 H2126.3" stroke="#808080" stroke-width="3.4"/><path d="M1823.4 1007.5 V1031.5" stroke="#707070" stroke-width="2.2"/><path d="M1810.4 1007.5 H1836.4 M1810.4 1031.5 H1836.4" stroke="#808080" stroke-width="3.4"/><path d="M1968.4 876.4 V918.6" stroke="#707070" stroke-width="2.2"/><path d="M1955.4 876.4 H1981.4 M1955.4 918.6 H1981.4" stroke="#808080" stroke-width="3.4"/><path d="M2113.3 818.6 V862.4" stroke="#707070" stroke-width="2.2"/><path d="M2100.3 818.6 H2126.3 M2100.3 862.4 H2126.3" stroke="#808080" stroke-width="3.4"/></g>
<g fill="#000"><polygon points="1519.4,1288.3 1547.8,1288.3 1547.8,1316.7 1519.4,1316.7"/><polygon points="1531.5,1284.8 1559.9,1284.8 1559.9,1313.2 1531.5,1313.2"/><polygon points="1543.6,1276.4 1572.0,1276.4 1572.0,1304.8 1543.6,1304.8"/><polygon points="1567.7,1250.4 1596.1,1250.4 1596.1,1278.8 1567.7,1278.8"/><polygon points="1591.9,1224.3 1620.3,1224.3 1620.3,1252.7 1591.9,1252.7"/><polygon points="1664.3,1152.6 1692.7,1152.6 1692.7,1181.0 1664.3,1181.0"/><polygon points="1736.8,1086.6 1765.2,1086.6 1765.2,1115.0 1736.8,1115.0"/><polygon points="1809.2,1005.3 1837.6,1005.3 1837.6,1033.7 1809.2,1033.7"/><polygon points="1954.2,883.3 1982.6,883.3 1982.6,911.7 1954.2,911.7"/><polygon points="2099.1,826.3 2127.5,826.3 2127.5,854.7 2099.1,854.7"/><polygon points="1533.6,1251.7 1553.1,1271.2 1533.6,1290.7 1514.1,1271.2"/><polygon points="1545.7,1223.2 1565.2,1242.7 1545.7,1262.2 1526.2,1242.7"/><polygon points="1557.8,1185.9 1577.3,1205.4 1557.8,1224.9 1538.3,1205.4"/><polygon points="1581.9,1114.5 1601.4,1134.0 1581.9,1153.5 1562.4,1134.0"/><polygon points="1606.1,1044.3 1625.6,1063.8 1606.1,1083.3 1586.6,1063.8"/><polygon points="1678.5,807.7 1698.0,827.2 1678.5,846.7 1659.0,827.2"/><polygon points="1751.0,603.5 1770.5,623.0 1751.0,642.5 1731.5,623.0"/><polygon points="1823.4,422.8 1842.9,442.3 1823.4,461.8 1803.9,442.3"/><polygon points="1968.4,339.5 1987.9,359.0 1968.4,378.5 1948.9,359.0"/><polygon points="2113.3,311.7 2132.8,331.2 2113.3,350.7 2093.8,331.2"/><polygon points="1530.6,1185.5 1536.6,1185.5 1543.6,1189.5 1547.6,1196.0 1547.6,1206.0 1543.6,1212.5 1536.6,1216.5 1530.6,1216.5 1523.6,1212.5 1519.6,1206.0 1519.6,1196.0 1523.6,1189.5"/><polygon points="1542.7,1131.5 1548.7,1131.5 1555.7,1135.5 1559.7,1142.0 1559.7,1152.0 1555.7,1158.5 1548.7,1162.5 1542.7,1162.5 1535.7,1158.5 1531.7,1152.0 1531.7,1142.0 1535.7,1135.5"/><polygon points="1554.8,1059.5 1560.8,1059.5 1567.8,1063.5 1571.8,1070.0 1571.8,1080.0 1567.8,1086.5 1560.8,1090.5 1554.8,1090.5 1547.8,1086.5 1543.8,1080.0 1543.8,1070.0 1547.8,1063.5"/><polygon points="1578.9,912.5 1584.9,912.5 1591.9,916.5 1595.9,923.0 1595.9,933.0 1591.9,939.5 1584.9,943.5 1578.9,943.5 1571.9,939.5 1567.9,933.0 1567.9,923.0 1571.9,916.5"/><polygon points="1603.1,784.0 1609.1,784.0 1616.1,788.0 1620.1,794.5 1620.1,804.5 1616.1,811.0 1609.1,815.0 1603.1,815.0 1596.1,811.0 1592.1,804.5 1592.1,794.5 1596.1,788.0"/><polygon points="1675.5,363.5 1681.5,363.5 1688.5,367.5 1692.5,374.0 1692.5,384.0 1688.5,390.5 1681.5,394.5 1675.5,394.5 1668.5,390.5 1664.5,384.0 1664.5,374.0 1668.5,367.5"/><polygon points="1748.0,302.5 1754.0,302.5 1761.0,306.5 1765.0,313.0 1765.0,323.0 1761.0,329.5 1754.0,333.5 1748.0,333.5 1741.0,329.5 1737.0,323.0 1737.0,313.0 1741.0,306.5"/><polygon points="1820.4,247.0 1826.4,247.0 1833.4,251.0 1837.4,257.5 1837.4,267.5 1833.4,274.0 1826.4,278.0 1820.4,278.0 1813.4,274.0 1809.4,267.5 1809.4,257.5 1813.4,251.0"/><polygon points="1965.4,245.5 1971.4,245.5 1978.4,249.5 1982.4,256.0 1982.4,266.0 1978.4,272.5 1971.4,276.5 1965.4,276.5 1958.4,272.5 1954.4,266.0 1954.4,256.0 1958.4,249.5"/><polygon points="2110.3,260.5 2116.3,260.5 2123.3,264.5 2127.3,271.0 2127.3,281.0 2123.3,287.5 2116.3,291.5 2110.3,291.5 2103.3,287.5 2099.3,281.0 2099.3,271.0 2103.3,264.5"/></g>
</svg>
</body></html>
